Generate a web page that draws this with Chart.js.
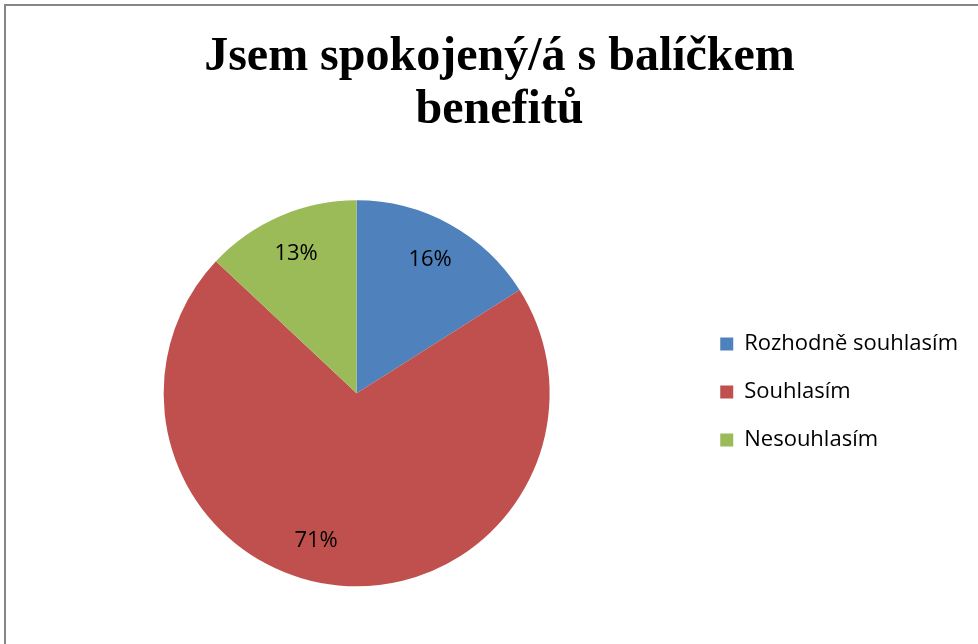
<!DOCTYPE html>
<html><head><meta charset="utf-8">
<script src="https://cdn.jsdelivr.net/npm/chart.js@4"></script>
<style>
html,body{margin:0;padding:0;background:#fff;width:978px;height:644px;overflow:hidden;}
#frame{position:absolute;left:4px;top:4px;width:990px;height:660px;border-left:2px solid #868686;border-top:2px solid #868686;}
#wrap{position:absolute;left:0;top:0;width:1000px;height:644px;}
</style></head><body>
<div id="frame"></div>
<div id="wrap"><canvas id="c" width="1000" height="644"></canvas></div>
<script>
const titleLines = [" Jsem spokojený/á s balíčkem", " benefitů"];
const categories = ["Rozhodně souhlasím", "Souhlasím", "Nesouhlasím"];
const values = [16, 71, 13];
const colors = ["#4F81BD", "#C0504D", "#9BBB59"];

const pctLabels = {
  id: 'pctLabels',
  afterDatasetsDraw(chart, args, opts) {
    const ctx = chart.ctx;
    const meta = chart.getDatasetMeta(0);
    ctx.save();
    ctx.font = '22px "Open Sans"';
    ctx.fillStyle = '#000';
    ctx.textAlign = 'center';
    ctx.textBaseline = 'middle';
    meta.data.forEach((arc, i) => {
      const p = arc.getProps(['x','y','startAngle','endAngle','outerRadius'], true);
      const a = (p.startAngle + p.endAngle) / 2 + (opts.shift[i] || 0) * Math.PI / 180;
      const r = p.outerRadius * opts.frac;
      ctx.fillText(values[i] + '%', p.x + Math.cos(a) * r, p.y + Math.sin(a) * r);
    });
    ctx.restore();
  }
};

new Chart(document.getElementById('c'), {
  type: 'pie',
  data: {
    labels: categories,
    datasets: [{ data: values, backgroundColor: colors, borderWidth: 0, radius: 193 }]
  },
  options: {
    responsive: false,
    animation: false,
    layout: { padding: { left: 19, right: 32, top: 18, bottom: 0 } },
    plugins: {
      title: { display: true, text: titleLines, color: '#000',
        font: { family: 'Liberation Serif', size: 48, weight: 'bold', lineHeight: 1.1 },
        padding: { top: 13, bottom: 6 } },
      legend: { position: 'right', align: 'center',
        title: { display: true, text: '', font: { size: 1 }, padding: { top: 60, bottom: 61 } },
        labels: { color: '#000', font: { family: 'Open Sans', size: 22 }, boxWidth: 13, boxHeight: 13, padding: 26 } },
      tooltip: { enabled: false },
      pctLabels: { frac: 0.79, shift: [0, 10, 0] }
    }
  },
  plugins: [pctLabels]
});
</script>
</body></html>
